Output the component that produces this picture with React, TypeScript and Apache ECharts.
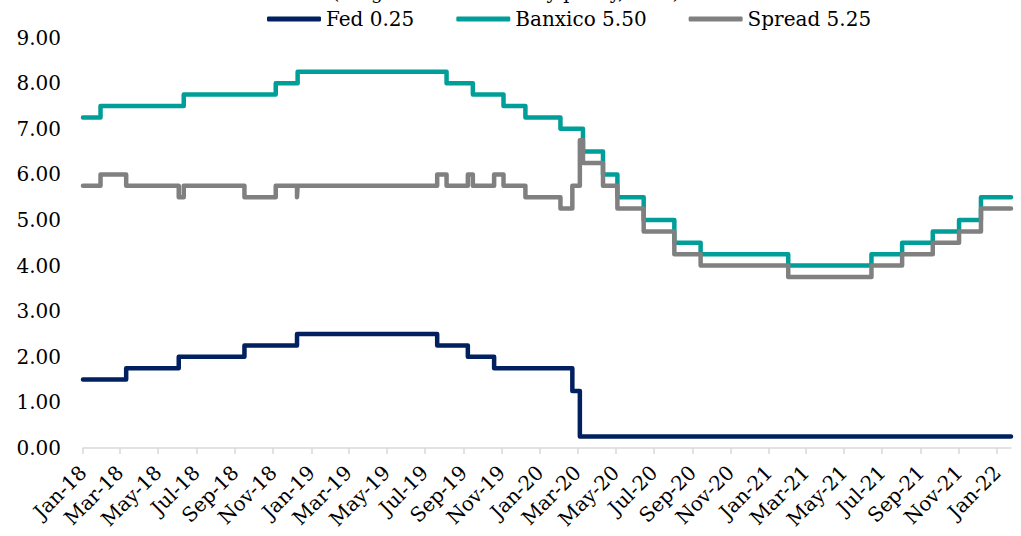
import React, { useEffect, useRef } from "react";
import * as echarts from "echarts";

// Step-change dates and the new level from that date on
const fedDates = [
  "2018-01-01", "2018-03-11", "2018-06-03", "2018-09-16", "2018-12-09",
  "2019-07-21", "2019-09-08", "2019-10-20", "2020-02-22", "2020-03-05", "2022-01-23",
];
const fedValues = [1.5, 1.75, 2.0, 2.25, 2.5, 2.25, 2.0, 1.75, 1.25, 0.25, 0.25];

const banxicoDates = [
  "2018-01-01", "2018-01-29", "2018-06-11", "2018-11-05", "2018-12-10",
  "2019-08-05", "2019-09-16", "2019-11-04", "2019-12-09", "2020-02-03",
  "2020-03-10", "2020-04-11", "2020-05-04", "2020-06-15", "2020-08-03",
  "2020-09-14", "2021-02-01", "2021-06-14", "2021-08-02", "2021-09-20",
  "2021-11-01", "2021-12-06", "2022-01-23",
];
const banxicoValues = [
  7.25, 7.5, 7.75, 8.0, 8.25, 8.0, 7.75, 7.5, 7.25, 7.0, 6.5, 6.0, 5.5, 5.0,
  4.5, 4.25, 4.0, 4.25, 4.5, 4.75, 5.0, 5.5, 5.5,
];

const spreadDates = [
  "2018-01-01", "2018-01-29", "2018-03-11", "2018-06-03", "2018-06-11",
  "2018-09-16", "2018-11-05", "2018-12-09", "2018-12-10", "2019-07-21",
  "2019-08-05", "2019-09-08", "2019-09-16", "2019-10-20", "2019-11-04",
  "2019-12-09", "2020-02-03", "2020-02-22", "2020-03-05", "2020-03-10",
  "2020-04-11", "2020-05-04", "2020-06-15", "2020-08-03", "2020-09-14",
  "2021-02-01", "2021-06-14", "2021-08-02", "2021-09-20", "2021-11-01",
  "2021-12-06", "2022-01-23",
];
const spreadValues = [
  5.75, 6.0, 5.75, 5.5, 5.75, 5.5, 5.75, 5.5, 5.75, 6.0, 5.75, 6.0, 5.75, 6.0,
  5.75, 5.5, 5.25, 5.75, 6.75, 6.25, 5.75, 5.25, 4.75, 4.25, 4.0, 3.75, 4.0,
  4.25, 4.5, 4.75, 5.25, 5.25,
];

const seriesNames = ["Fed 0.25", "Banxico 5.50", "Spread 5.25"];

// Title line that is cut off at the top edge of the picture (only descenders show)
const titleText = "(Target interest rate by policy, in %)";

const xTickDates = [
  "2018-01-01", "2018-03-01", "2018-05-01", "2018-07-01", "2018-09-01", "2018-11-01",
  "2019-01-01", "2019-03-01", "2019-05-01", "2019-07-01", "2019-09-01", "2019-11-01",
  "2020-01-01", "2020-03-01", "2020-05-01", "2020-07-01", "2020-09-01", "2020-11-01",
  "2021-01-01", "2021-03-01", "2021-05-01", "2021-07-01", "2021-09-01", "2021-11-01",
  "2022-01-01",
];
const xMin = "2018-01-01";
const xMax = "2022-01-23";
const monthNames = ["Jan", "Feb", "Mar", "Apr", "May", "Jun", "Jul", "Aug", "Sep", "Oct", "Nov", "Dec"];

function ts(d: string): number {
  const [y, m, dd] = d.split("-").map(Number);
  return Date.UTC(y, m - 1, dd);
}

function pairs(dates: string[], values: number[]) {
  return dates.map((d, i) => [ts(d), values[i]]);
}

const FONT = "DejaVu Serif";

export default function App() {
  const ref = useRef<HTMLDivElement>(null);
  useEffect(() => {
    document.body.style.margin = "0";
    if (!ref.current) return;
    const chart = echarts.init(ref.current, undefined, { renderer: "svg" });
    const ticks = xTickDates.map(ts);
    const lineCommon = {
      type: "line" as const,
      step: "end" as const,
      showSymbol: false,
      symbol: "none",
      lineStyle: { width: 4.5, cap: "round" as const, join: "round" as const },
    };
    chart.setOption({
      animation: false,
      backgroundColor: "#ffffff",
      graphic: [
        {
          type: "text",
          left: 332,
          top: -18,
          silent: true,
          style: { text: titleText, fontFamily: FONT, fontSize: 19, fill: "#000" },
        },
      ],
      legend: {
        top: 4,
        left: 262,
        icon: "roundRect",
        itemWidth: 54,
        itemHeight: 5,
        itemGap: 42,
        textStyle: { fontFamily: FONT, fontSize: 20, color: "#000" },
        data: seriesNames,
      },
      grid: { left: 83, right: 10, top: 37.6, bottom: 88, containLabel: false },
      xAxis: {
        type: "value",
        min: ts(xMin),
        max: ts(xMax),
        axisLine: { show: true, lineStyle: { color: "#d9d9d9", width: 1.5 } },
        axisTick: {
          show: true,
          length: 6,
          customValues: ticks,
          lineStyle: { color: "#d9d9d9", width: 1.5 },
        },
        axisLabel: {
          customValues: ticks,
          rotate: 45,
          margin: 21,
          fontFamily: FONT,
          fontSize: 20,
          color: "#000",
          formatter: (v: number) => {
            const d = new Date(v);
            return monthNames[d.getUTCMonth()] + "-" + String(d.getUTCFullYear()).slice(2);
          },
        },
        splitLine: { show: false },
      },
      yAxis: {
        type: "value",
        min: 0,
        max: 9,
        interval: 1,
        axisLine: { show: false },
        axisTick: { show: false },
        splitLine: { show: false },
        axisLabel: {
          margin: 22,
          fontFamily: FONT,
          fontSize: 20,
          color: "#000",
          formatter: (v: number) => v.toFixed(2),
        },
      },
      series: [
        { ...lineCommon, name: seriesNames[0], color: "#002060", data: pairs(fedDates, fedValues) },
        { ...lineCommon, name: seriesNames[1], color: "#009E98", data: pairs(banxicoDates, banxicoValues) },
        { ...lineCommon, name: seriesNames[2], color: "#808080", data: pairs(spreadDates, spreadValues) },
      ],
    });
    return () => chart.dispose();
  }, []);
  return <div ref={ref} style={{ width: 1021, height: 536 }} />;
}
